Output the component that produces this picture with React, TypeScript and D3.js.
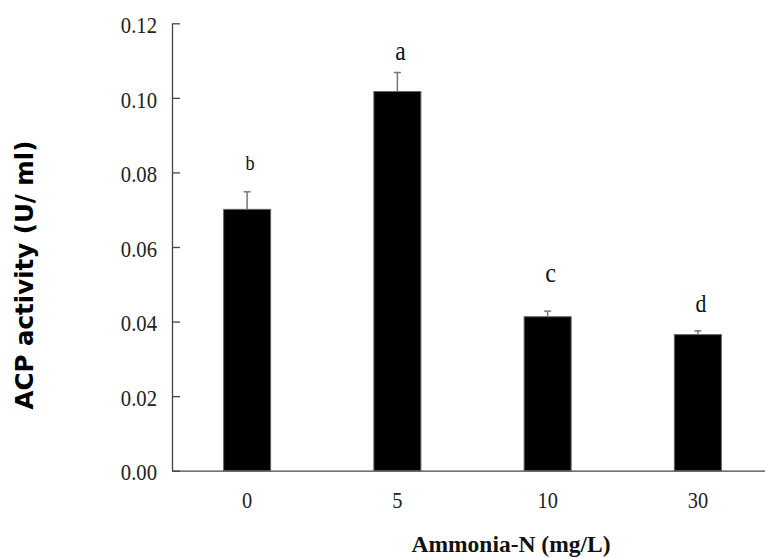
import { useRef, useEffect } from 'react';
import * as d3 from 'd3';

const categories = ['0', '5', '10', '30'];
const means = [0.0701, 0.1017, 0.0413, 0.0365];
const errors = [0.0047, 0.0051, 0.0015, 0.001];
const letters = ['b', 'a', 'c', 'd'];
const yTicks = [0, 0.02, 0.04, 0.06, 0.08, 0.1, 0.12];

// layout tweaks for the significance letters (px above error bar, font size)
const letterGap = [22, 13, 29, 19];
const letterSize = [21, 27, 28, 25];

const W = 765;
const H = 558;

const App = () => {
  const svgRef = useRef<SVGSVGElement>(null);

  useEffect(() => {
    const svg = d3.select(svgRef.current);
    svg.selectAll('*').remove();

    const left = 172;
    const top = 23.3;
    const bottom = 470.7;

    const x = d3.scaleBand<string>()
      .domain(categories)
      .range([left, 773])
      .paddingInner(0.687)
      .paddingOuter(0.3435);
    const y = d3.scaleLinear().domain([0, 0.12]).range([bottom, top]);

    // bars
    svg.append('g')
      .selectAll('rect')
      .data(means)
      .join('rect')
      .attr('x', (d, i) => x(categories[i])!)
      .attr('y', d => y(d))
      .attr('width', x.bandwidth())
      .attr('height', d => bottom - y(d))
      .attr('fill', '#000')
      .attr('stroke', '#666')
      .attr('stroke-width', 1);

    // error bars (upper only)
    const eb = svg.append('g').attr('stroke', '#777').attr('stroke-width', 1.5);
    means.forEach((m, i) => {
      const cx = x(categories[i])! + x.bandwidth() / 2;
      eb.append('line').attr('x1', cx).attr('x2', cx).attr('y1', y(m)).attr('y2', y(m + errors[i]));
      eb.append('line').attr('x1', cx - 3.5).attr('x2', cx + 3.5).attr('y1', y(m + errors[i])).attr('y2', y(m + errors[i]));
    });

    // letters
    svg.append('g')
      .selectAll('text')
      .data(letters)
      .join('text')
      .attr('transform', (d, i) => {
        const cx = x(categories[i])! + x.bandwidth() / 2 + 3;
        const cy = y(means[i] + errors[i]) - letterGap[i];
        return `translate(${cx},${cy}) scale(0.87,1)`;
      })
      .attr('text-anchor', 'middle')
      .attr('font-family', '"Liberation Serif", "Times New Roman", serif')
      .attr('font-size', (d, i) => letterSize[i])
      .attr('fill', '#111')
      .text(d => d);

    // y axis
    const yAxis = svg.append('g')
      .attr('transform', `translate(${left},0)`)
      .call(d3.axisRight(y).tickValues(yTicks).tickFormat(d3.format('.2f')).tickSize(8).tickSizeOuter(0));
    yAxis.select('.domain').attr('stroke', '#444').attr('stroke-width', 1.3);
    yAxis.selectAll('.tick line').attr('stroke', '#444').attr('stroke-width', 1.3);
    yAxis.selectAll('.tick text')
      .attr('x', null)
      .attr('dy', '0.36em')
      .attr('text-anchor', 'end')
      .attr('transform', 'translate(-15,1) scale(0.9,1)')
      .attr('font-family', '"Liberation Serif", "Times New Roman", serif')
      .attr('font-size', 23)
      .attr('fill', '#222');

    // x axis
    const xAxis = svg.append('g')
      .attr('transform', `translate(0,${bottom})`)
      .call(d3.axisBottom(x).tickSize(0).tickSizeOuter(0));
    xAxis.select('.domain').attr('stroke', '#444').attr('stroke-width', 1.3);
    xAxis.selectAll('.tick text')
      .attr('y', null)
      .attr('dy', null)
      .attr('transform', 'translate(0,37.5) scale(0.85,1)')
      .attr('font-family', '"Liberation Serif", "Times New Roman", serif')
      .attr('font-size', 24)
      .attr('fill', '#222');

    // axis titles
    svg.append('text')
      .attr('x', 511)
      .attr('y', 551.5)
      .attr('text-anchor', 'middle')
      .attr('font-family', '"Liberation Serif", "Times New Roman", serif')
      .attr('font-weight', 'bold')
      .attr('font-size', 23.5)
      .attr('fill', '#111')
      .text('Ammonia-N (mg/L)');

    svg.append('text')
      .attr('transform', 'translate(33,275) rotate(-90)')
      .attr('text-anchor', 'middle')
      .attr('font-family', '"DejaVu Sans", Verdana, sans-serif')
      .attr('font-weight', 'bold')
      .attr('font-size', 24.5)
      .attr('fill', '#000')
      .text('ACP activity (U/ ml)');
  }, []);

  return (
    <svg
      ref={svgRef}
      width={W}
      height={H}
      style={{ position: 'absolute', left: 0, top: 0, background: '#fff' }}
    />
  );
};

export default App;
